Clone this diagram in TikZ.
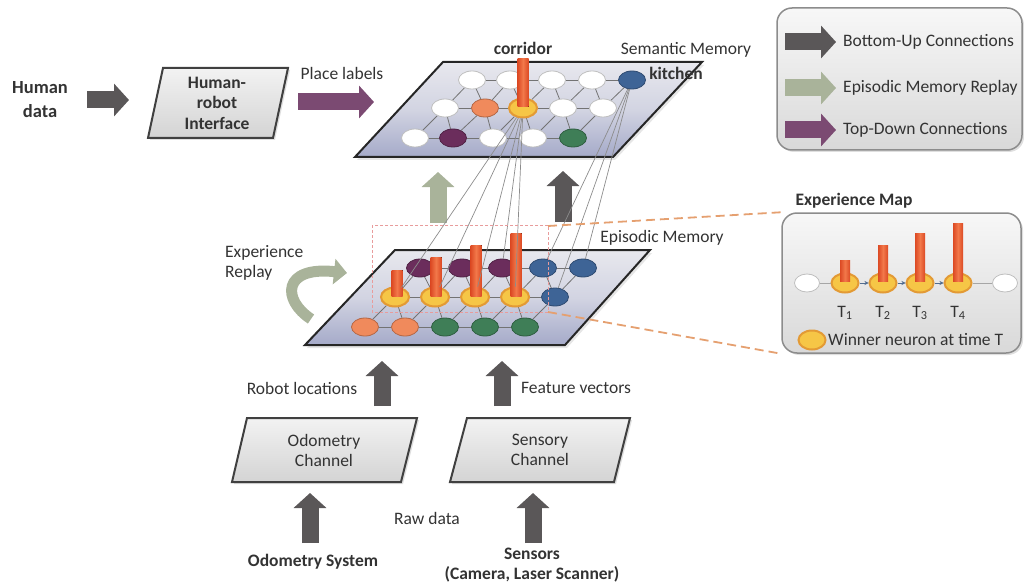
\documentclass[tikz,border=0pt]{standalone}
\usepackage{fontspec}
\setmainfont{Carlito}
\usetikzlibrary{arrows.meta,shapes.geometric,shadows,calc}
\definecolor{dg}{HTML}{5A5758}
\definecolor{sage}{HTML}{A9B39A}
\definecolor{plum}{HTML}{7B4A72}
\definecolor{npurple}{HTML}{6B2D5C}
\definecolor{ngreen}{HTML}{3F7E57}
\definecolor{nblue}{HTML}{3E6496}
\definecolor{norange}{HTML}{F08A5C}
\definecolor{nyellow}{HTML}{F6C646}
\definecolor{nring}{HTML}{E39A35}
\definecolor{barD}{HTML}{DC4A24}
\definecolor{barL}{HTML}{F2784A}
\definecolor{planeTop}{HTML}{E8E8EE}
\definecolor{planeMid}{HTML}{D2D4E2}
\definecolor{planeBot}{HTML}{A5AAC9}
\definecolor{odash}{HTML}{E5A070}
\definecolor{pdash}{HTML}{E89C9C}
\definecolor{txtc}{HTML}{333333}
\pgfdeclarelayer{back}
\pgfdeclarelayer{mid}
\pgfdeclarelayer{front}
\pgfsetlayers{back,mid,main,front}
\begin{document}
\begin{tikzpicture}[x=1pt,y=-1pt,
  txt/.style={font=\fontsize{17.5}{20}\selectfont, text=txtc, inner sep=0pt},
  btxt/.style={font=\fontsize{17.5}{20.5}\selectfont\bfseries, text=txtc, inner sep=0pt},
  neu/.style={ellipse, minimum width=27pt, minimum height=18pt, inner sep=0pt, fill=#1, draw=#1!75!black, line width=0.8pt},
  win/.style={ellipse, minimum width=28pt, minimum height=19pt, inner sep=0pt, fill=nyellow, draw=nring, line width=2pt},
  grid/.style={draw=black!55, line width=0.8pt},
  link/.style={draw=black!45, line width=0.7pt},
  plane/.style={draw=black!85, line width=2pt, top color=planeTop, bottom color=planeBot, middle color=planeMid},
  pbox/.style={draw=black!75, line width=2pt, top color=black!5, bottom color=black!17, drop shadow={opacity=0.25, shadow xshift=2pt, shadow yshift=-2pt}},
  rbox/.style={draw=black!45, line width=1.5pt, rounded corners=15pt, top color=black!3, bottom color=black!15, drop shadow={opacity=0.25, shadow xshift=2pt, shadow yshift=-2pt}},
  blk/.style={draw=#1, line width=17pt, -{Triangle[length=15pt, width=32pt]}},
  barc/.style={left color=barD, right color=barD, middle color=barL}
]
\useasboundingbox (0,0) rectangle (1024,588);

% ---------- planes ----------
\begin{pgfonlayer}{back}
\draw[plane, drop shadow={opacity=0.2, shadow xshift=2pt, shadow yshift=-3pt}] (355,157) -- (443,62) -- (702,62) -- (613,157) -- cycle;
\draw[plane, drop shadow={opacity=0.2, shadow xshift=2pt, shadow yshift=-3pt}] (305,345) -- (395,250) -- (650,250) -- (565,345) -- cycle;
\end{pgfonlayer}

% ---------- semantic memory neurons ----------
\foreach \i/\x/\c in {1/472/white,2/510/white,3/552/white,4/592/white,5/632/nblue}
  \node[neu=\c] (s1\i) at (\x,80) {};
\foreach \i/\x/\c in {1/445/white,2/485/norange,4/563/white,5/603/white}
  \node[neu=\c] (s2\i) at (\x,108) {};
\node[win] (s23) at (523,108) {};
\foreach \i/\x/\c in {1/415/white,2/453/npurple,3/493/white,4/533/white,5/573/ngreen}
  \node[neu=\c] (s3\i) at (\x,138) {};

% ---------- episodic memory neurons ----------
\foreach \i/\x/\c in {1/420/npurple,2/462/npurple,3/502/npurple,4/543/nblue,5/583/nblue}
  \node[neu=\c] (e1\i) at (\x,268) {};
\foreach \i/\x in {1/395,2/435,3/475,4/515}
  \node[win] (e2\i) at (\x,297) {};
\node[neu=nblue] (e25) at (555,297) {};
\foreach \i/\x/\c in {1/365/norange,2/405/norange,3/445/ngreen,4/485/ngreen,5/525/ngreen}
  \node[neu=\c] (e3\i) at (\x,327) {};

% ---------- lattice edges ----------
\begin{pgfonlayer}{mid}
\foreach \p in {s,e}{
  \foreach \r in {1,2,3}{
    \foreach \i [evaluate=\i as \j using int(\i+1)] in {1,...,4}
      \draw[grid] (\p\r\i) -- (\p\r\j);
  }
  \foreach \i [evaluate=\i as \j using int(\i-1)] in {1,...,5}{
    \draw[grid] (\p2\i) -- (\p1\i);
    \draw[grid] (\p3\i) -- (\p2\i);
    \ifnum\i>1
      \draw[grid] (\p2\i) -- (\p1\j);
      \draw[grid] (\p3\i) -- (\p2\j);
    \fi
  }
}
\end{pgfonlayer}

% ---------- bars ----------
\fill[barc] (517.5,59) rectangle (528.5,107);
\fill[barc] (391.5,270) rectangle (402.5,296);
\fill[barc] (430.5,257) rectangle (441.5,296);
\fill[barc] (470.5,245) rectangle (481.5,296);
\fill[barc] (510.5,233) rectangle (521.5,296);

% ---------- links between layers ----------
\begin{pgfonlayer}{front}
\foreach \t in {e21,e22,e23,e13,e24}
  \draw[link] (s23) -- (\t);
\foreach \t in {e14,e15,e25}
  \draw[link] (s15) -- (\t);
\end{pgfonlayer}

% ---------- experience map box ----------
\node[rbox, minimum width=239pt, minimum height=140pt] (em) at (901.5,283) {};
\node[neu=white, minimum width=25pt] (m0) at (807,283) {};
\node[win, minimum width=27pt] (m1) at (845,283) {};
\node[win, minimum width=27pt] (m2) at (883,283) {};
\node[win, minimum width=27pt] (m3) at (920,283) {};
\node[win, minimum width=27pt] (m4) at (958,283) {};
\node[neu=white, minimum width=25pt] (m5) at (1005,283) {};
\draw[grid, draw=black!35] (m0) -- (m1);
\draw[grid, draw=nblue!70!gray, -{Stealth[length=4pt,width=4pt]}] (m1) -- (m2);
\draw[grid, draw=nblue!70!gray, -{Stealth[length=4pt,width=4pt]}] (m2) -- (m3);
\draw[grid, draw=nblue!70!gray, -{Stealth[length=4pt,width=4pt]}] (m3) -- (m4);
\draw[grid, draw=black!35] (m4) -- (m5);
\fill[barc] (840,260) rectangle (850,281);
\fill[barc] (878,245) rectangle (888,281);
\fill[barc] (915,233) rectangle (925,281);
\fill[barc] (953,223) rectangle (963,281);
\node[txt] (t1) at (845,313) {T\textsubscript{1}};
\node[txt] (t2) at (883,313) {T\textsubscript{2}};
\node[txt] (t3) at (920,313) {T\textsubscript{3}};
\node[txt] (t4) at (958,313) {T\textsubscript{4}};
\node[win, minimum width=27pt] (wl) at (812,340) {};
\node[txt, anchor=west] (wlt) at (828,340) {Winner neuron at time T};
\node[btxt] (emt) at (854,201) {Experience Map};

% ---------- dashed zoom box ----------
\begin{pgfonlayer}{front}
\draw[pdash, line width=1pt, dash pattern=on 3pt off 2pt] (372,225) rectangle (548,312);
\coordinate (dbTR) at (548,226);
\coordinate (dbBR) at (548,312);
\draw[odash, line width=1.8pt, dash pattern=on 9pt off 5pt] (dbTR) -- (em.north west);
\draw[odash, line width=1.8pt, dash pattern=on 9pt off 5pt] (dbBR) -- (em.south west);
\end{pgfonlayer}

% ---------- legend ----------
\node[rbox, minimum width=245pt, minimum height=142pt] (lg) at (899.5,79) {};
\coordinate (l1s) at (785,42);  \coordinate (l1e) at (836,42);
\coordinate (l2s) at (785,88);  \coordinate (l2e) at (836,88);
\coordinate (l3s) at (785,130); \coordinate (l3e) at (836,130);
\draw[blk=dg] (l1s) -- (l1e);
\draw[blk=sage] (l2s) -- (l2e);
\draw[blk=plum] (l3s) -- (l3e);
\node[txt, anchor=west] (lt1) at (843,42) {Bottom-Up Connections};
\node[txt, anchor=west] (lt2) at (843,88) {Episodic Memory Replay};
\node[txt, anchor=west] (lt3) at (843,130) {Top-Down Connections};

% ---------- human data / interface ----------
\node[font=\fontsize{18.5}{24}\selectfont\bfseries, text=txtc, inner sep=0pt, align=center] (hd) at (40,100) {Human\\data};
\coordinate (h1s) at (87,100); \coordinate (h1e) at (129,100);
\draw[blk=dg] (h1s) -- (h1e);
\draw[pbox] (148,138) -- (163,68) -- (288,68) -- (273,138) -- cycle;
\node[btxt, align=center] (hri) at (217,103) {Human-\\robot\\Interface};
\node[txt] (pl) at (342,73) {Place labels};
\coordinate (p1s) at (298,102); \coordinate (p1e) at (374,102);
\draw[blk=plum] (p1s) -- (p1e);

% ---------- semantic labels ----------
\node[btxt] (cor) at (523,48) {corridor};
\node[txt] (sm) at (686,50) {Semantic Memory};
\node[btxt] (kit) at (676,73) {kitchen};
\node[txt] (epm) at (662,238) {Episodic Memory};

% ---------- arrows between layers ----------
\coordinate (g1s) at (438,223); \coordinate (g1e) at (438,172);
\draw[blk=sage] (g1s) -- (g1e);
\coordinate (d1s) at (563,222); \coordinate (d1e) at (563,171);
\draw[blk=dg] (d1s) -- (d1e);

% ---------- experience replay ----------
\coordinate (rs) at (311,319); \coordinate (re) at (347,273);
\draw[sage, line width=11pt, -{Triangle[length=13pt, width=25pt]}] (rs) .. controls (282,300) and (282,266) .. (re);
\node[txt, align=left, anchor=west] (erl) at (225,263) {Experience\\Replay};

% ---------- channels ----------
\draw[pbox] (232,482) -- (247,418) -- (417,418) -- (401,482) -- cycle;
\node[txt, align=center] (odo) at (324,450) {Odometry\\Channel};
\draw[pbox] (450,482) -- (467,418) -- (630,418) -- (614,482) -- cycle;
\node[txt, align=center] (sen) at (540,450) {Sensory\\Channel};

\coordinate (r1s) at (382,406); \coordinate (r1e) at (382,361);
\draw[blk=dg] (r1s) -- (r1e);
\node[txt] (rl) at (302,388) {Robot locations};
\coordinate (f1s) at (502,406); \coordinate (f1e) at (502,361);
\draw[blk=dg] (f1s) -- (f1e);
\node[txt, anchor=west] (fv) at (521,388) {Feature vectors};

\coordinate (o1s) at (310,543); \coordinate (o1e) at (310,493);
\draw[blk=dg] (o1s) -- (o1e);
\coordinate (s1s) at (533,543); \coordinate (s1e) at (533,493);
\draw[blk=dg] (s1s) -- (s1e);
\node[txt] (rd) at (427,518) {Raw data};
\node[btxt] (os) at (313,562) {Odometry System};
\node[btxt, align=center] (ss) at (532,565) {Sensors\\(Camera, Laser Scanner)};
\end{tikzpicture}
\end{document}
